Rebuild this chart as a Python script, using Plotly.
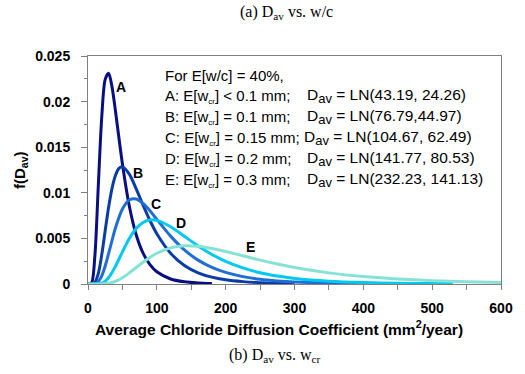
import plotly.graph_objects as go

# Curve data (x: mm^2/year, y: f(D_av))
A_x = [0, 5, 10, 15, 20, 25, 30, 35, 40, 45, 50, 60, 70, 80, 90, 100, 120, 140, 160, 180]
A_y = [0, 0.00009, 0.00309, 0.01084, 0.01835, 0.02244, 0.02311, 0.02156, 0.01892, 0.01598,
       0.01316, 0.00855, 0.00540, 0.00338, 0.00212, 0.00134, 0.00055, 0.00024, 0.00011, 0.00005]

B_x = [0, 5, 10, 15, 20, 25, 30, 35, 40, 45, 50, 60, 70, 80, 90, 100, 120, 140, 160, 180,
       200, 225, 250, 275, 300]
B_y = [0, 0.0, 0.00017, 0.00116, 0.00322, 0.00587, 0.00844, 0.01052, 0.01192, 0.01267, 0.01284,
       0.01204, 0.01044, 0.00865, 0.00696, 0.00551, 0.00337, 0.00203, 0.00123, 0.00075,
       0.00046, 0.00026, 0.00015, 0.00009, 0.00005]

C_x = [0, 10, 15, 20, 25, 30, 35, 40, 50, 60, 70, 80, 90, 100, 120, 140, 160, 180, 200,
       225, 250, 275, 300, 350, 390]
C_y = [0, 0.00003, 0.00025, 0.00089, 0.00197, 0.00335, 0.00480, 0.00617, 0.00822, 0.00921,
       0.00932, 0.00883, 0.00803, 0.00709, 0.00525, 0.00374, 0.00262, 0.00182, 0.00127,
       0.00081, 0.00052, 0.00034, 0.00022, 0.00010, 0.00005]

D_x = [0, 15, 20, 25, 30, 35, 40, 50, 60, 70, 80, 90, 100, 120, 140, 160, 180, 200, 225,
       250, 275, 300, 350, 400, 450, 500, 530]
D_y = [0, 0.00002, 0.00010, 0.00032, 0.00071, 0.00127, 0.00196, 0.00352, 0.00498, 0.00608,
       0.00675, 0.00702, 0.00698, 0.00628, 0.00523, 0.00417, 0.00324, 0.00248, 0.00176,
       0.00123, 0.00087, 0.00061, 0.00031, 0.00016, 0.00008, 0.00005, 0.00003]

E_x = [0, 20, 30, 40, 50, 60, 70, 80, 90, 100, 120, 140, 160, 180, 200, 225, 250, 275, 300,
       350, 400, 450, 500, 550, 600]
E_y = [0, 0.00001, 0.00008, 0.00030, 0.00069, 0.00122, 0.00181, 0.00239, 0.00292, 0.00337,
       0.00396, 0.00419, 0.00413, 0.00389, 0.00356, 0.00309, 0.00262, 0.00219, 0.00181,
       0.00122, 0.00081, 0.00055, 0.00037, 0.00025, 0.00017]

series_names = ["A", "B", "C", "D", "E"]
series_colors = ["#0a0f80", "#0a3ca5", "#1f6fd2", "#00c8ee", "#86e2d4"]

label_x = [48, 72, 99, 135, 236]
label_y = [0.0216, 0.0122, 0.0088, 0.0067, 0.0041]

SUBCR = "<sub><span style='font-size:8px'>cr</span></sub>"
legend_left = [
    "A: E[w" + SUBCR + "] &lt; 0.1 mm;",
    "B: E[w" + SUBCR + "] = 0.1 mm;",
    "C: E[w" + SUBCR + "] = 0.15 mm;",
    "D: E[w" + SUBCR + "] = 0.2 mm;",
    "E: E[w" + SUBCR + "] = 0.3 mm;",
]
SUBAV = "<sub><span style='font-size:13px'>av</span></sub>"
legend_right = [
    "D" + SUBAV + " = LN(43.19, 24.26)",
    "D" + SUBAV + " = LN(76.79,44.97)",
    "D" + SUBAV + " = LN(104.67, 62.49)",
    "D" + SUBAV + " = LN(141.77, 80.53)",
    "D" + SUBAV + " = LN(232.23, 141.13)",
]

xs = [A_x, B_x, C_x, D_x, E_x]
ys = [A_y, B_y, C_y, D_y, E_y]

fig = go.Figure()
for name, x, y, c in zip(series_names, xs, ys, series_colors):
    fig.add_trace(go.Scatter(x=x, y=y, mode="lines", name=name,
                             line=dict(color=c, width=3, shape="spline", smoothing=0.8),
                             showlegend=False))

font = "Liberation Sans, Arial, sans-serif"
ann = []
for n, lx, ly in zip(series_names, label_x, label_y):
    ann.append(dict(x=lx, y=ly, xref="x", yref="y", text="<b>%s</b>" % n, showarrow=False,
                    font=dict(family=font, size=14, color="black")))

W, H = 525, 374
L, R, T, B = 88, 12, 56, 90
pw, ph = W - L - R, H - T - B


def px(xp):
    return (xp - L) / pw


def py(yp):
    return (H - B - yp) / ph


TXT = 15
ann.append(dict(x=px(165), y=py(75), xref="paper", yref="paper", text="For E[w/c] = 40%,",
                showarrow=False, xanchor="left", yanchor="middle",
                font=dict(family=font, size=TXT, color="black")))
rows_y = [96, 117, 138, 159, 180]
right_x = [311, 311, 308, 311, 311]
for t1, t2, yy, rx in zip(legend_left, legend_right, rows_y, right_x):
    ann.append(dict(x=px(165), y=py(yy), xref="paper", yref="paper", text=t1,
                    showarrow=False, xanchor="left", yanchor="middle",
                    font=dict(family=font, size=TXT, color="black")))
    ann.append(dict(x=px(rx), y=py(yy), xref="paper", yref="paper", text=t2,
                    showarrow=False, xanchor="left", yanchor="middle",
                    font=dict(family=font, size=15.5, color="black")))

# axis title and captions
ann.append(dict(x=px(285), y=py(328), xref="paper", yref="paper",
                text="<b>Average Chloride Diffusion Coefficient (mm<sup>2</sup>/year)</b>",
                showarrow=False, xanchor="center", yanchor="middle",
                font=dict(family=font, size=15.5, color="black")))
ann.append(dict(x=px(292), y=py(13), xref="paper", yref="paper",
                text="(a) D<sub>av</sub> vs. w/c", showarrow=False,
                xanchor="center", yanchor="middle",
                font=dict(family="Liberation Serif, Times New Roman, serif", size=16, color="black")))
ann.append(dict(x=px(280), y=py(355), xref="paper", yref="paper",
                text="(b) D<sub>av</sub> vs. w<sub>cr</sub>", showarrow=False,
                xanchor="center", yanchor="middle",
                font=dict(family="Liberation Serif, Times New Roman, serif", size=16, color="black")))
ann.append(dict(x=px(18), y=py(170), xref="paper", yref="paper",
                text="<b>f(D<sub>av</sub>)</b>", showarrow=False, textangle=-90,
                xanchor="center", yanchor="middle",
                font=dict(family=font, size=15, color="black")))

fig.update_layout(
    width=W, height=H,
    margin=dict(l=L, r=R, t=T, b=B),
    paper_bgcolor="white", plot_bgcolor="white",
    annotations=ann,
    font=dict(family=font, color="black"),
)
fig.update_xaxes(range=[0, 600], dtick=100, tick0=0, showgrid=False, zeroline=False,
                 showline=True, linecolor="#808080", linewidth=1, mirror=True,
                 ticks="outside", ticklen=5, tickcolor="#808080",
                 minor=dict(ticks="outside", dtick=50, ticklen=5, tickcolor="#808080"),
                 tickfont=dict(family=font, size=14, color="black"),
                 ticklabelstandoff=6,
                 tickprefix="<b>", ticksuffix="</b>")
fig.update_yaxes(range=[0, 0.025], dtick=0.005, tick0=0, showgrid=False, zeroline=False,
                 showline=True, linecolor="#808080", linewidth=1, mirror=True,
                 ticks="outside", ticklen=6, tickcolor="#808080",
                 minor=dict(ticks="outside", dtick=0.0025, ticklen=3, tickcolor="#808080"),
                 tickfont=dict(family=font, size=14, color="black"),
                 ticklabelstandoff=8,
                 tickprefix="<b>", ticksuffix="</b>")

fig.write_html("out.html", config={"displayModeBar": False},
               post_script="document.body.style.margin='0';")
